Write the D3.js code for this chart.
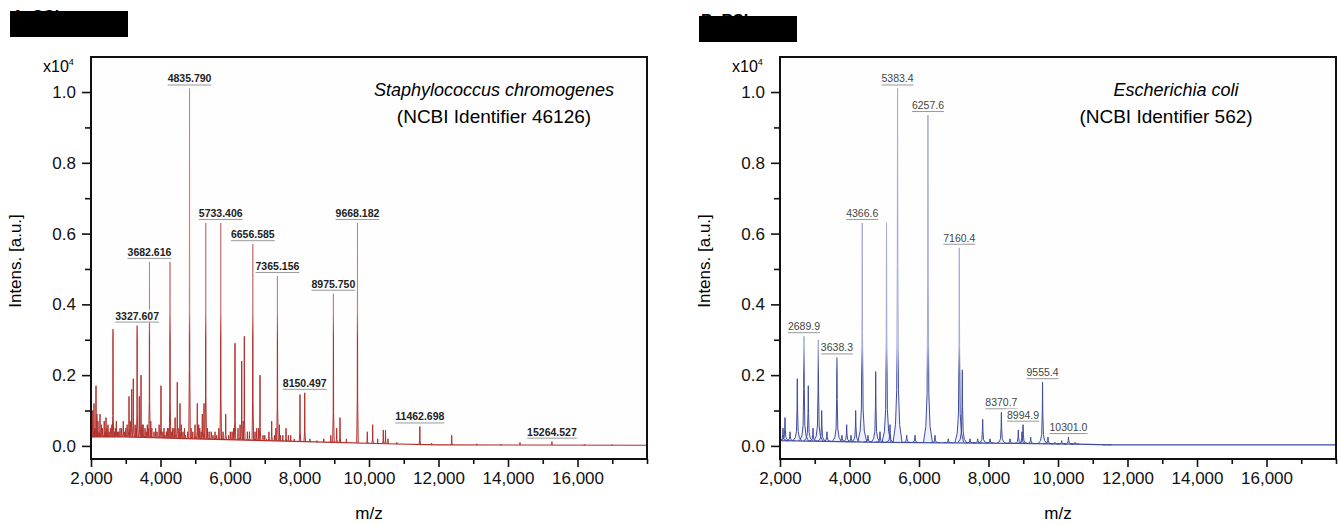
<!DOCTYPE html>
<html lang="en">
<head>
  <meta charset="UTF-8">
  <title>MALDI-TOF spectra</title>
  <script src="https://d3js.org/d3.v7.min.js"></script>
  <style>
    body { margin: 0; background: #fff; }
    svg { display: block; font-family: "Liberation Sans", Arial, sans-serif; }
    .tick text { font-size: 17px; fill: #111; }
    .axis path { display: none; }
    .axis line { stroke: #111; stroke-width: 1.6; }
    .peak-label { font-size: 10.5px; text-anchor: middle; }
  </style>
</head>
<body>
<svg width="1339" height="525"></svg>

<script>
  // ---- data ----
  const mzTicks = [2000, 4000, 6000, 8000, 10000, 12000, 14000, 16000];
  const mzMinor = [3000, 5000, 7000, 9000, 11000, 13000, 15000, 17000, 18000];
  const intensTicks = [0, 0.2, 0.4, 0.6, 0.8, 1.0];
  const intensMinor = [0.1, 0.3, 0.5, 0.7, 0.9];

  // Staphylococcus chromogenes
  const staphMz = [2050, 2086, 2144, 2200, 2259, 2330, 2380, 2432, 2489, 2560, 2633, 2700, 2760, 2835, 2930,
    3000, 3094, 3171, 3217, 3270, 3327.607, 3390, 3439, 3500, 3554, 3620, 3682.616, 3750, 3813, 3900,
    4014, 4070, 4129, 4200, 4273, 4350, 4420, 4483, 4561, 4647, 4720, 4835.790, 4930, 4993, 5059, 5130,
    5203, 5252, 5301, 5400, 5511, 5620, 5733.406, 5876, 5960, 6060, 6144, 6230, 6337, 6412, 6500,
    6656.585, 6768, 6863, 6950, 7050, 7200, 7280, 7365.156, 7450, 7612, 7747, 7850, 8014, 8150.497,
    8300, 8500, 8700, 8900, 8975.750, 9070, 9165, 9350, 9668.182, 9951, 10106, 10250, 10411, 10475,
    10547, 10800, 11462.698, 11800, 12380, 13100, 13800, 14345, 15264.527, 16200, 17000];
  const staphInt = [0.10, 0.12, 0.17, 0.07, 0.09, 0.05, 0.07, 0.08, 0.06, 0.05, 0.33, 0.05, 0.04, 0.05, 0.07,
    0.05, 0.14, 0.16, 0.19, 0.06, 0.34, 0.14, 0.20, 0.06, 0.05, 0.06, 0.52, 0.05, 0.04, 0.04,
    0.17, 0.04, 0.03, 0.05, 0.52, 0.05, 0.08, 0.18, 0.12, 0.04, 0.03, 1.01, 0.04, 0.06, 0.12, 0.05,
    0.09, 0.12, 0.63, 0.04, 0.03, 0.03, 0.63, 0.09, 0.03, 0.04, 0.29, 0.05, 0.24, 0.31, 0.04,
    0.57, 0.05, 0.20, 0.03, 0.02, 0.07, 0.03, 0.48, 0.03, 0.05, 0.03, 0.02, 0.145, 0.15,
    0.02, 0.015, 0.02, 0.03, 0.43, 0.05, 0.08, 0.02, 0.63, 0.04, 0.06, 0.02, 0.045, 0.045,
    0.02, 0.01, 0.055, 0.008, 0.03, 0.006, 0.005, 0.01, 0.012, 0.004, 0.003];
  // small peaks of the dense low-mass region
  const staphSmallMz = [2020, 2110, 2170, 2230, 2300, 2410, 2460, 2520, 2600, 2670, 2730, 2800, 2880, 2970,
    3040, 3130, 3300, 3470, 3590, 3660, 3720, 3860, 3960, 4100, 4170, 4240, 4310, 4390, 4530, 4600,
    4690, 4780, 4880, 5100, 5170, 5350, 5460, 5570, 5680, 5800, 6010, 6100, 6290, 6380, 6560, 6720,
    6820, 7000, 7120, 7320, 7420, 7520, 7680];
  const staphSmallInt = [0.06, 0.05, 0.09, 0.04, 0.06, 0.04, 0.05, 0.04, 0.06, 0.04, 0.07, 0.04, 0.05, 0.04,
    0.06, 0.07, 0.05, 0.06, 0.04, 0.05, 0.07, 0.05, 0.06, 0.05, 0.04, 0.05, 0.04, 0.05, 0.05, 0.06,
    0.05, 0.04, 0.05, 0.06, 0.04, 0.05, 0.04, 0.04, 0.05, 0.04, 0.04, 0.05, 0.06, 0.07, 0.04, 0.04,
    0.05, 0.03, 0.04, 0.05, 0.06, 0.03, 0.03];
  const staphLabels = [3327.607, 3682.616, 4835.790, 5733.406, 6656.585, 7365.156, 8150.497,
    8975.750, 9668.182, 11462.698, 15264.527];
  const staphBaseMz = [2000, 3000, 5000, 7000, 9000, 10500, 12000, 18000];
  const staphBaseInt = [0.025, 0.025, 0.02, 0.015, 0.01, 0.006, 0.003, 0.002];

  // Escherichia coli
  const coliMz = [2086, 2144, 2288, 2498, 2689.9, 2814, 2950, 3102, 3200, 3352, 3638.3, 3784, 3919, 4043,
    4178, 4366.6, 4532, 4754, 4878, 5065, 5165, 5383.4, 5646, 5885, 6257.6, 6460, 6843, 7160.4, 7246,
    7468, 7689, 7833, 8043, 8370.7, 8619, 8858, 8964, 8994.9, 9214, 9555.4, 9712, 9914, 10106, 10301.0,
    10489, 10921, 11410];
  const coliInt = [0.05, 0.08, 0.04, 0.19, 0.31, 0.17, 0.05, 0.30, 0.10, 0.04, 0.25, 0.03, 0.06, 0.03,
    0.10, 0.63, 0.03, 0.21, 0.04, 0.63, 0.06, 1.01, 0.03, 0.03, 0.935, 0.03, 0.02, 0.56, 0.215,
    0.02, 0.02, 0.075, 0.02, 0.095, 0.02, 0.045, 0.04, 0.06, 0.025, 0.18, 0.025, 0.01, 0.015, 0.025,
    0.01, 0.004, 0.004];
  const coliLabels = [2689.9, 3638.3, 4366.6, 5383.4, 6257.6, 7160.4, 8370.7, 8994.9, 9555.4, 10301.0];
  const coliBaseMz = [2000, 5000, 8000, 10500, 11500, 18000];
  const coliBaseInt = [0.015, 0.01, 0.008, 0.005, 0.003, 0.003];

  const svg = d3.select("svg");
  const defs = svg.append("defs");
  const plotTop = 57, plotBottom = 459, plotW = 556;

  const y = d3.scaleLinear().domain([-0.037, 1.099]).range([plotBottom, plotTop]);

  function drawPanel(o) {
    const x = d3.scaleLinear().domain([2000, 18000]).range([o.left, o.left + plotW]);
    const base = d3.scaleLinear().domain(o.baseMz).range(o.baseInt);
    const g = svg.append("g");

    defs.append("clipPath").attr("id", "clip" + o.id)
      .append("rect").attr("x", o.left).attr("y", plotTop).attr("width", plotW).attr("height", plotBottom - plotTop);

    // peaks get darker towards the baseline
    const grad = defs.append("linearGradient").attr("id", "grad" + o.id)
      .attr("gradientUnits", "userSpaceOnUse")
      .attr("x1", 0).attr("x2", 0).attr("y1", y(0)).attr("y2", y(1));
    [[0, o.color], [o.split, o.color], [o.split + 0.08, o.light], [1, o.light]].forEach(s =>
      grad.append("stop").attr("offset", s[0]).attr("stop-color", s[1]));

    g.append("rect").attr("x", o.left).attr("y", plotTop).attr("width", plotW).attr("height", plotBottom - plotTop)
      .attr("fill", "#fefefe");

    const spec = g.append("g").attr("clip-path", `url(#clip${o.id})`);
    const line = d3.line().x(d => x(d[0])).y(d => y(d[1]));

    // baseline
    spec.append("path")
      .datum(o.baseMz.map((m, i) => [m, o.baseInt[i]]))
      .attr("fill", "none").attr("stroke", o.color).attr("stroke-width", 1.1)
      .attr("d", line);

    // peaks
    o.mz.forEach((m, i) => {
      const b = base(m), h = o.int[i] - b;
      const pts = o.shape.map(s => [m + s[0], b + s[1] * h]);
      spec.append("path").datum(pts)
        .attr("fill", o.fill).attr("stroke", `url(#grad${o.id})`)
        .attr("stroke-width", 1).attr("d", line);
    });

    // peak labels
    const labG = g.append("g");
    o.labels.forEach(m => {
      const v = o.int[o.mz.indexOf(m)];
      const bg = labG.append("rect");
      const txt = labG.append("text").attr("class", "peak-label")
        .attr("x", x(m)).attr("y", y(v) - 6)
        .attr("fill", o.labelColor).attr("font-weight", o.labelWeight)
        .text(m.toFixed(o.digits));
      const w = txt.node().getComputedTextLength();
      bg.attr("x", x(m) - w / 2 - 1).attr("y", y(v) - 16).attr("width", w + 2).attr("height", 13)
        .attr("fill", "#fff").attr("opacity", 0.8);
      labG.append("line")
        .attr("x1", x(m) - w / 2).attr("x2", x(m) + w / 2)
        .attr("y1", y(v) - 3.5).attr("y2", y(v) - 3.5)
        .attr("stroke", "#999").attr("stroke-width", 1);
    });

    // frame
    g.append("rect").attr("x", o.left).attr("y", plotTop).attr("width", plotW).attr("height", plotBottom - plotTop)
      .attr("fill", "none").attr("stroke", "#111").attr("stroke-width", 2);

    // axes
    g.append("g").attr("class", "axis").attr("transform", `translate(${o.left - 1},0)`)
      .call(d3.axisLeft(y).tickValues(intensTicks).tickFormat(d3.format(".1f")).tickSize(8).tickPadding(6));
    g.append("g").attr("class", "axis").attr("transform", `translate(${o.left - 1},0)`)
      .call(d3.axisLeft(y).tickValues(intensMinor).tickFormat("").tickSize(5));
    g.append("g").attr("class", "axis").attr("transform", `translate(0,${plotBottom})`)
      .call(d3.axisBottom(x).tickValues(mzTicks).tickFormat(d3.format(",")).tickSize(8).tickPadding(5));
    g.append("g").attr("class", "axis").attr("transform", `translate(0,${plotBottom})`)
      .call(d3.axisBottom(x).tickValues(mzMinor).tickFormat("").tickSize(5));

    // axis titles
    g.append("text").attr("x", o.left + plotW / 2).attr("y", 519)
      .attr("text-anchor", "middle").style("font-size", "17px").text("m/z");
    g.append("text").attr("transform", `translate(${o.left - 70},${(plotTop + plotBottom) / 2 + 3}) rotate(-90)`)
      .attr("text-anchor", "middle").style("font-size", "17px").text("Intens. [a.u.]");
    const ex = g.append("text").attr("x", o.left - 48).attr("y", 72).style("font-size", "16px");
    ex.append("tspan").text("x10");
    ex.append("tspan").attr("dy", -7).style("font-size", "9px").text("4");

    // species
    g.append("text").attr("x", o.speciesX).attr("y", 96).attr("text-anchor", "middle")
      .style("font-size", "18px").style("font-style", "italic").text(o.species);
    g.append("text").attr("x", o.ncbiX).attr("y", 123).attr("text-anchor", "middle")
      .style("font-size", "19px").text(o.ncbi);

    // panel title, blacked out
    g.append("text").attr("x", o.titleX + 2).attr("y", o.titleY + o.titleDy)
      .style("font-size", "16px").style("font-weight", "bold").text(o.title);
    g.append("rect").attr("x", o.titleX).attr("y", o.titleY).attr("width", o.titleW).attr("height", 26)
      .attr("fill", "#000");
  }

  drawPanel({
    id: "a", left: 91, mz: staphMz.concat(staphSmallMz), int: staphInt.concat(staphSmallInt),
    labels: staphLabels, digits: 3, baseMz: staphBaseMz, baseInt: staphBaseInt,
    color: "#b0302c", light: "#d27a76", split: 0.3, fill: "none", labelColor: "#222", labelWeight: "bold",
    shape: [[-22, 0], [-6, 0.2], [0, 1], [6, 0.2], [22, 0]],
    species: "Staphylococcus chromogenes", ncbi: "(NCBI Identifier 46126)", speciesX: 494, ncbiX: 494,
    title: "A. SCi", titleX: 10, titleY: 11, titleDy: 10.5, titleW: 118
  });

  drawPanel({
    id: "b", left: 780, mz: coliMz, int: coliInt, labels: coliLabels, digits: 1,
    baseMz: coliBaseMz, baseInt: coliBaseInt,
    color: "#3f4c9e", light: "#a4a9d6", split: 0.2, fill: "rgba(160,166,214,0.15)", labelColor: "#444", labelWeight: "normal",
    shape: [[-130, 0], [-60, 0.05], [-25, 0.15], [-8, 0.5], [0, 1], [8, 0.5], [25, 0.15], [60, 0.05], [130, 0]],
    species: "Escherichia coli", ncbi: "(NCBI Identifier 562)", speciesX: 1176, ncbiX: 1166,
    title: "B. RSI", titleX: 699, titleY: 16, titleDy: 10, titleW: 98
  });
</script>
</body>
</html>
